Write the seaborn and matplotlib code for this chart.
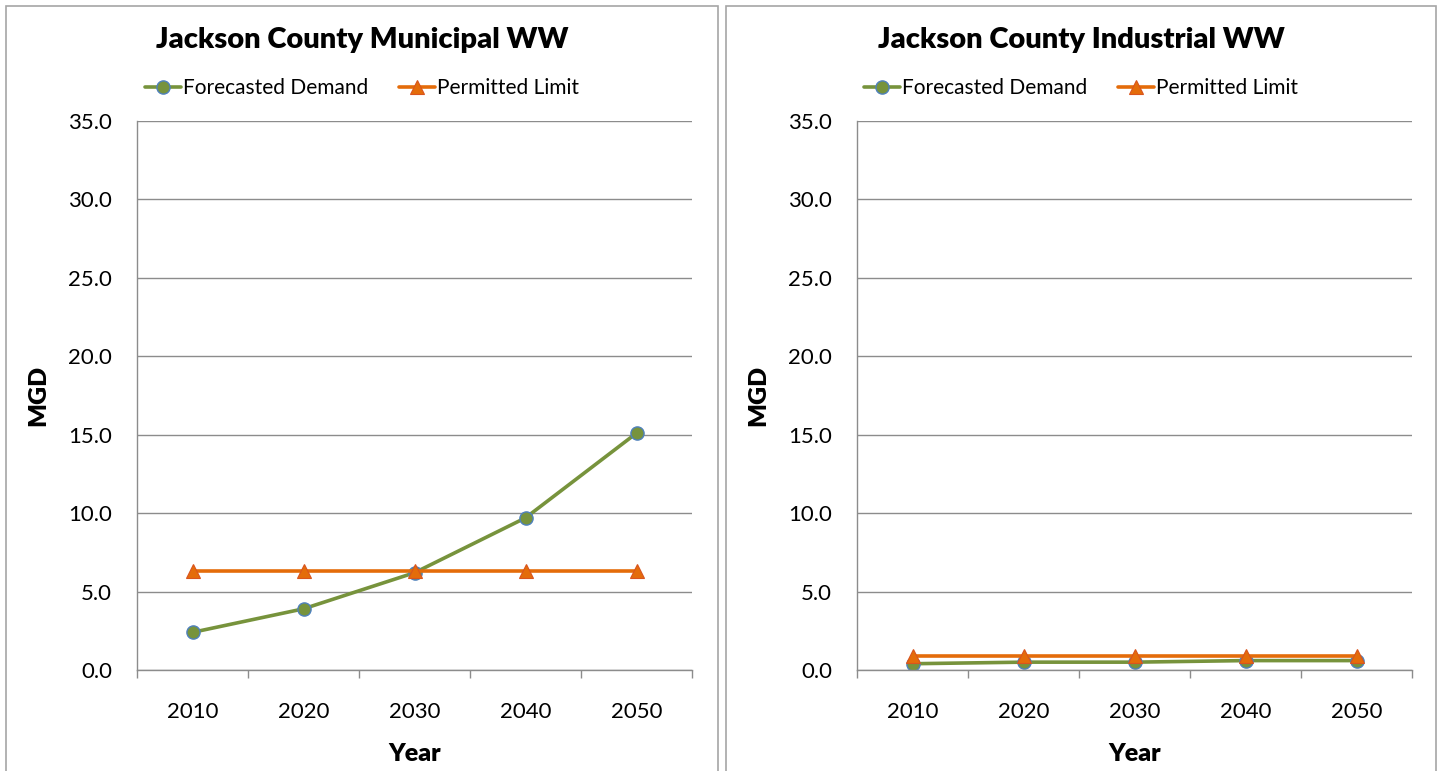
import matplotlib
matplotlib.use("Agg")
import matplotlib.pyplot as plt
from matplotlib.patches import Rectangle
import numpy as np
import pandas as pd
import seaborn as sns

years = [2010, 2020, 2030, 2040, 2050]
muni_demand = [2.4, 3.9, 6.2, 9.7, 15.1]
muni_permit = [6.3, 6.3, 6.3, 6.3, 6.3]
ind_demand = [0.4, 0.5, 0.5, 0.6, 0.6]
ind_permit = [0.9, 0.9, 0.9, 0.9, 0.9]
titles = ["Jackson County Municipal WW", "Jackson County Industrial WW"]
series_names = ["Forecasted Demand", "Permitted Limit"]
y_ticks = [0, 5, 10, 15, 20, 25, 30, 35]

GREEN = "#77933C"
ORANGE = "#E46C0A"
GRID = "#8C8C8C"

sns.set_style("white")
plt.rcParams["font.family"] = ["Lato", "DejaVu Sans"]
plt.rcParams["text.color"] = "black"
plt.rcParams["axes.labelcolor"] = "black"
plt.rcParams["xtick.color"] = "black"
plt.rcParams["ytick.color"] = "black"

W, H = 1442, 771
fig = plt.figure(figsize=(W / 100, H / 100), dpi=100)

panels = [
    dict(ax_left=137, box=(6, 718), demand=muni_demand, permit=muni_permit),
    dict(ax_left=857, box=(726, 1436), demand=ind_demand, permit=ind_permit),
]

for title, p in zip(titles, panels):
    # panel frame
    x0, x1 = p["box"]
    fig.patches.append(Rectangle((x0 / W, -0.05), (x1 - x0) / W, 1.05 - 6 / H,
                                 transform=fig.transFigure, fill=False,
                                 edgecolor="#A6A6A6", linewidth=1.2))
    cx = (x0 + x1) / 2 / W

    ax = fig.add_axes([p["ax_left"] / W, 1 - 670 / H, 555 / W, 549 / H])
    df = pd.DataFrame({"Year": years * 2,
                       "MGD": p["demand"] + p["permit"],
                       "Series": [series_names[0]] * 5 + [series_names[1]] * 5})

    sns.lineplot(data=df[df["Series"] == series_names[0]], x="Year", y="MGD",
                 color=GREEN, marker="o", markersize=9.5, markeredgecolor="#4F81BD",
                 markeredgewidth=1, linewidth=2.6, label=series_names[0], ax=ax)
    sns.lineplot(data=df[df["Series"] == series_names[1]], x="Year", y="MGD",
                 color=ORANGE, marker="^", markersize=10.5, markeredgecolor="#D9541E",
                 markeredgewidth=0.8, linewidth=2.6, label=series_names[1], ax=ax)

    ax.set_xlim(2005, 2055)
    ax.set_ylim(0, 35)
    ax.set_yticks(y_ticks)
    ax.set_yticklabels([f"{v:.1f}" for v in y_ticks])
    ax.set_xticks(years)
    ax.set_xticks(np.arange(2005, 2056, 10), minor=True)
    ax.tick_params(axis="x", which="major", length=0, pad=23, labelsize=16)
    ax.tick_params(axis="x", which="minor", length=6, width=1, color=GRID,
                   direction="out", bottom=True)
    ax.tick_params(axis="y", length=0, pad=18, labelsize=16)
    ax.grid(axis="y", color=GRID, linewidth=1)
    ax.set_axisbelow(True)
    for side in ["top", "right"]:
        ax.spines[side].set_visible(False)
    for side in ["left", "bottom"]:
        ax.spines[side].set_color(GRID)
        ax.spines[side].set_linewidth(1)

    ax.set_xlabel("Year", fontsize=18, fontweight="heavy")
    ax.xaxis.set_label_coords(0.5, -0.133)
    ax.set_ylabel("MGD", fontsize=18, fontweight="heavy")
    ax.yaxis.set_label_coords(-0.158, 0.5)

    ax.legend(loc="center", bbox_to_anchor=(cx, 1 - 88 / H),
              bbox_transform=fig.transFigure, ncol=2, frameon=False,
              fontsize=15, handlelength=1.7, handletextpad=0.1,
              columnspacing=1.5)
    fig.text(cx, 1 - 40 / H, title, ha="center", va="center",
             fontsize=21, fontweight="heavy")

fig.savefig("out.png", dpi=100, facecolor="white")
